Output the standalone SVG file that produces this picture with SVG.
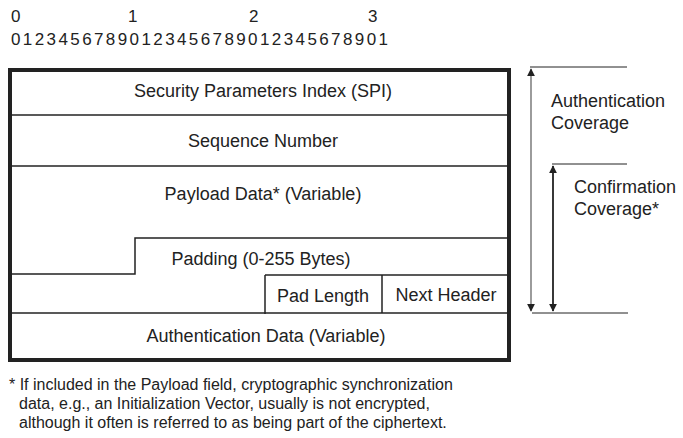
<svg xmlns="http://www.w3.org/2000/svg" width="683" height="438" viewBox="0 0 683 438">
<style>
text{font-family:"Liberation Sans",Arial,sans-serif;fill:#222}
.f{font-size:18px;text-anchor:middle}
.h{font-size:17px}
.r{font-size:18px}
.n{font-size:16px}
.ln{stroke:#222;stroke-width:1.5;fill:none}
.thin{stroke:#222;stroke-width:1;fill:none}
</style>
<defs>
<marker id="ah" viewBox="0 0 10 10" refX="9" refY="5" markerWidth="8" markerHeight="10" markerUnits="userSpaceOnUse" orient="auto-start-reverse">
<path d="M0,0 L10,5 L0,10 z" fill="#222"/>
</marker>
</defs>
<rect width="683" height="438" fill="#fff"/>
<g id="bits">
<text class="h" x="11" y="22">0</text>
<text class="h" x="128" y="22">1</text>
<text class="h" x="249" y="22">2</text>
<text class="h" x="368" y="22">3</text>
<text class="h" x="11" y="45" textLength="377" lengthAdjust="spacing">01234567890123456789012345678901</text>
</g>
<g id="frame">
<rect x="10" y="70" width="499" height="290" fill="none" stroke="#222" stroke-width="4"/>
</g>
<g id="spi"><line class="ln" x1="10" y1="115" x2="509" y2="115"/><text class="f" x="263" y="97">Security Parameters Index (SPI)</text></g>
<g id="seq"><line class="ln" x1="10" y1="166" x2="509" y2="166"/><text class="f" x="263" y="147">Sequence Number</text></g>
<g id="payload"><text class="f" x="263" y="200">Payload Data* (Variable)</text></g>
<g id="padding">
<polyline class="ln" points="10,274 135,274 135,238 509,238"/>
<line class="ln" x1="265" y1="275" x2="509" y2="275"/>
<text class="f" x="261" y="265">Padding (0-255 Bytes)</text>
</g>
<g id="padlen"><line class="ln" x1="265" y1="275" x2="265" y2="314"/><text class="f" x="323" y="302">Pad Length</text></g>
<g id="nexthdr"><line class="ln" x1="382" y1="275" x2="382" y2="313"/><text class="f" x="446" y="301">Next Header</text></g>
<g id="auth"><line class="ln" x1="10" y1="313" x2="509" y2="313"/><text class="f" x="266" y="342">Authentication Data (Variable)</text></g>
<g id="connectors">
<line class="thin" x1="530" y1="67" x2="627" y2="67"/>
<line class="thin" x1="552" y1="164" x2="627" y2="164"/>
<line class="thin" x1="532" y1="313" x2="628" y2="313"/>
<line x1="531" y1="311" x2="531" y2="69" stroke="#666" stroke-width="1.3" marker-end="url(#ah)" marker-start="url(#ah)"/>
<line x1="553" y1="311" x2="553" y2="166" stroke="#222" stroke-width="1.8" marker-end="url(#ah)" marker-start="url(#ah)"/>
</g>
<g id="labels">
<text class="r" x="551" y="107">Authentication</text>
<text class="r" x="551" y="129">Coverage</text>
<text class="r" x="574" y="193">Confirmation</text>
<text class="r" x="574" y="215">Coverage*</text>
</g>
<g id="note">
<text class="n" x="9" y="390">* If included in the Payload field, cryptographic synchronization</text>
<text class="n" x="19" y="409">data, e.g., an Initialization Vector, usually is not encrypted,</text>
<text class="n" x="19" y="428">although it often is referred to as being part of the ciphertext.</text>
</g>
</svg>
